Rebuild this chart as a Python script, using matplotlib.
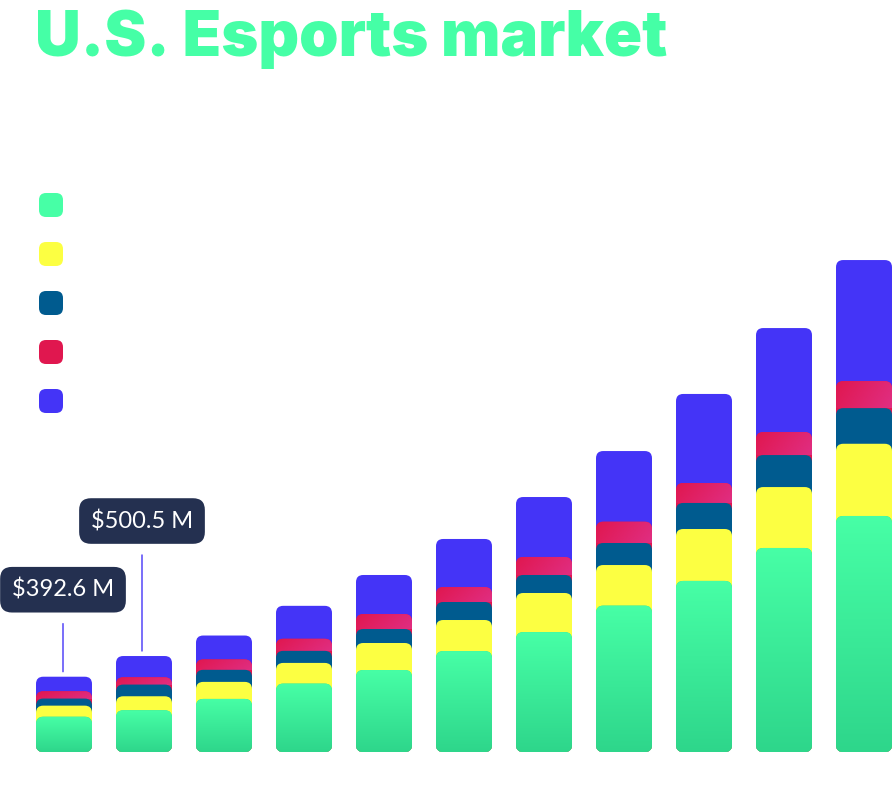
import numpy as np
import matplotlib
matplotlib.use("Agg")
import matplotlib.pyplot as plt
from matplotlib.patches import FancyBboxPatch
from matplotlib.colors import LinearSegmentedColormap

# ---------------- data (US$ million) ----------------
years = [2022, 2023, 2024, 2025, 2026, 2027, 2028, 2029, 2030, 2031, 2032]
seg_green = [184, 218, 277, 357, 428, 527, 626, 764, 893, 1065, 1232]
seg_yellow = [58, 73, 89, 108, 141, 162, 204, 212, 271, 318, 377]
seg_blue = [37, 61, 63, 63, 73, 94, 94, 115, 136, 167, 186]
seg_red = [38, 38, 54, 63, 78, 78, 94, 111, 104, 120, 141]
seg_purple = [76, 111, 125, 172, 204, 251, 313, 369, 465, 543, 632]
callout_idx = [0, 1]
callout_labels = ["$392.6 M", "$500.5 M"]

title = "U.S. Esports market"

# ---------------- styling ----------------
W, H = 893, 806
S = 5.22            # $M per pixel
PX = 80.0           # pixels per category
BAR_W = 0.7
RAD = 0.09

green_top, green_bot = "#47FFA6", "#2ED68B"
yellow = "#FCFF42"
blue = "#005B8F"
red_a, red_b = "#E0174F", "#E02E82"
purple = "#4434F7"
box_col = "#243050"

fig = plt.figure(figsize=(W / 100, H / 100), dpi=100)
fig.patch.set_facecolor("white")
ax = fig.add_axes([0, 54 / H, 1, 752 / H])
ax.set_xlim(-64 / PX, (W - 64) / PX)
ax.set_ylim(0, 752 * S)
ax.axis("off")

aspect = S * PX

layers = [seg_green, seg_yellow, seg_blue, seg_red, seg_purple]
cum = np.cumsum(np.array(layers), axis=0)  # cum[k] = top of layer k

green_cmap = LinearSegmentedColormap.from_list("g", [green_bot, green_top])
red_cmap = LinearSegmentedColormap.from_list("r", [red_a, red_b])

gy = np.linspace(0, 1, 256).reshape(-1, 1)
gx, gyy = np.meshgrid(np.linspace(0, 1, 64), np.linspace(0, 1, 64))
red_grad = (gx + (1 - gyy) * 0.3) / 1.3

for i, _ in enumerate(years):
    x0 = i - BAR_W / 2
    # draw from the top layer downwards so lower layers overlap upper ones
    for k in range(4, -1, -1):
        top = cum[k][i]
        z = 10 - k
        if k == 0:
            patch = FancyBboxPatch((x0, 0), BAR_W, top,
                                   boxstyle=f"round,pad=0,rounding_size={RAD}",
                                   mutation_aspect=aspect, fc=green_bot, ec="none", zorder=z)
            ax.add_patch(patch)
            im = ax.imshow(gy, extent=[x0, x0 + BAR_W, 0, top], origin="lower",
                           cmap=green_cmap, aspect="auto", zorder=z + 0.5)
            im.set_clip_path(patch)
        elif k == 3:
            patch = FancyBboxPatch((x0, 0), BAR_W, top,
                                   boxstyle=f"round,pad=0,rounding_size={RAD}",
                                   mutation_aspect=aspect, fc=red_a, ec="none", zorder=z)
            ax.add_patch(patch)
            lower = cum[2][i]
            im = ax.imshow(red_grad, extent=[x0, x0 + BAR_W, lower, top], origin="lower",
                           cmap=red_cmap, aspect="auto", zorder=z + 0.5)
            im.set_clip_path(patch)
        else:
            col = {1: yellow, 2: blue, 4: purple}[k]
            patch = FancyBboxPatch((x0, 0), BAR_W, top,
                                   boxstyle=f"round,pad=0,rounding_size={RAD}",
                                   mutation_aspect=aspect, fc=col, ec="none", zorder=z)
            ax.add_patch(patch)

ax.set_xlim(-64 / PX, (W - 64) / PX)
ax.set_ylim(0, 752 * S)

# ---------------- callouts ----------------
callout_offsets = [87, 135]   # label height above the bar top, pixels
callout_shift = [-1, -2]      # horizontal nudge, pixels
for idx, lab, off, sh in zip(callout_idx, callout_labels, callout_offsets, callout_shift):
    total = cum[4][idx]
    xx = idx + sh / PX
    ax.annotate(lab, xy=(xx, total + 5 * S), xytext=(xx, total + off * S),
                ha="center", va="center", fontsize=17, color="white",
                family="Lato", zorder=30,
                bbox=dict(boxstyle="round,pad=0.5,rounding_size=0.5", fc=box_col, ec="none"),
                arrowprops=dict(arrowstyle="-", color=purple, lw=1.0,
                                shrinkA=8, shrinkB=0))

# ---------------- legend markers ----------------
leg_cols = [green_top, yellow, blue, red_a, purple]
for j, c in enumerate(leg_cols):
    yc = 205 + 49 * j
    p = FancyBboxPatch((39 / W, 1 - (yc + 12) / H), 24 / W, 24 / H,
                       boxstyle=f"round,pad=0,rounding_size={7 / W}",
                       mutation_aspect=W / H, fc=c, ec="none",
                       transform=fig.transFigure)
    fig.add_artist(p)

# ---------------- title ----------------
fig.text(35 / W, 1 - 56 / H, title, fontsize=45.5, fontweight="black",
         family="Inter", color="#45FFA6", ha="left", va="baseline")

fig.savefig("out.png", dpi=100, facecolor="white")
